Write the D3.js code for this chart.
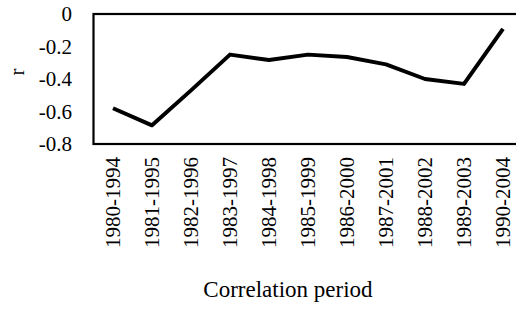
<!DOCTYPE html>
<html>
<head>
<meta charset="utf-8">
<title>Correlation period</title>
<script src="https://cdnjs.cloudflare.com/ajax/libs/d3/7.8.5/d3.min.js"></script>
<style>
	body { margin: 0; background: #fff; }
</style>
</head>
<body>
<script>
	var periods = ['1980-1994', '1981-1995', '1982-1996', '1983-1997', '1984-1998', '1985-1999',
		'1986-2000', '1987-2001', '1988-2002', '1989-2003', '1990-2004'];
	var rValues = [-0.58, -0.685, -0.47, -0.25, -0.283, -0.25, -0.265, -0.31, -0.40, -0.43, -0.092];
	var yTicks = [0, -0.2, -0.4, -0.6, -0.8];

	var width = 516, height = 311;
	var plotLeft = 93.5, plotTop = 14, plotBottom = 144;
	var step = 39;
	var serif = "'Liberation Serif', 'Times New Roman', serif";

	var svg = d3.select('body').append('svg')
		.attr('width', width)
		.attr('height', height)
		.style('font-family', serif);

	var x = d3.scalePoint()
		.domain(periods)
		.range([plotLeft + step / 2, plotLeft + step * (periods.length - 0.5)]);

	var y = d3.scaleLinear()
		.domain([-0.8, 0])
		.range([plotBottom, plotTop]);

	// plot frame (right side runs off the picture)
	svg.append('rect')
		.attr('x', plotLeft)
		.attr('y', plotTop)
		.attr('width', step * periods.length)
		.attr('height', plotBottom - plotTop)
		.attr('fill', 'none')
		.attr('stroke', '#000')
		.attr('stroke-width', 2.2);

	// y tick labels
	svg.selectAll('.ytick')
		.data(yTicks)
		.enter().append('text')
		.attr('class', 'ytick')
		.attr('x', 72)
		.attr('y', function (d) { return y(d); })
		.attr('dy', '0.35em')
		.attr('text-anchor', 'end')
		.style('font-family', serif)
		.style('font-size', '21px')
		.text(function (d) { return d === 0 ? '0' : d.toFixed(1); });

	// x tick labels, rotated
	svg.selectAll('.xtick')
		.data(periods)
		.enter().append('text')
		.attr('class', 'xtick')
		.attr('transform', function (d) { return 'translate(' + x(d) + ',157) rotate(-90)'; })
		.attr('dy', '0.35em')
		.attr('text-anchor', 'end')
		.style('font-family', serif)
		.style('font-size', '21px')
		.text(function (d) { return d; });

	var line = d3.line()
		.x(function (d, i) { return x(periods[i]); })
		.y(function (d) { return y(d); });

	svg.append('path')
		.datum(rValues)
		.attr('d', line)
		.attr('fill', 'none')
		.attr('stroke', '#000')
		.attr('stroke-width', 4)
		.attr('stroke-linejoin', 'round');

	// axis titles
	svg.append('text')
		.attr('transform', 'translate(17,72) rotate(-90)')
		.attr('dy', '0.35em')
		.attr('text-anchor', 'middle')
		.style('font-size', '21px')
		.text('r');

	svg.append('text')
		.attr('x', 288)
		.attr('y', 297)
		.attr('text-anchor', 'middle')
		.style('font-size', '23px')
		.text('Correlation period');
</script>
</body>
</html>
